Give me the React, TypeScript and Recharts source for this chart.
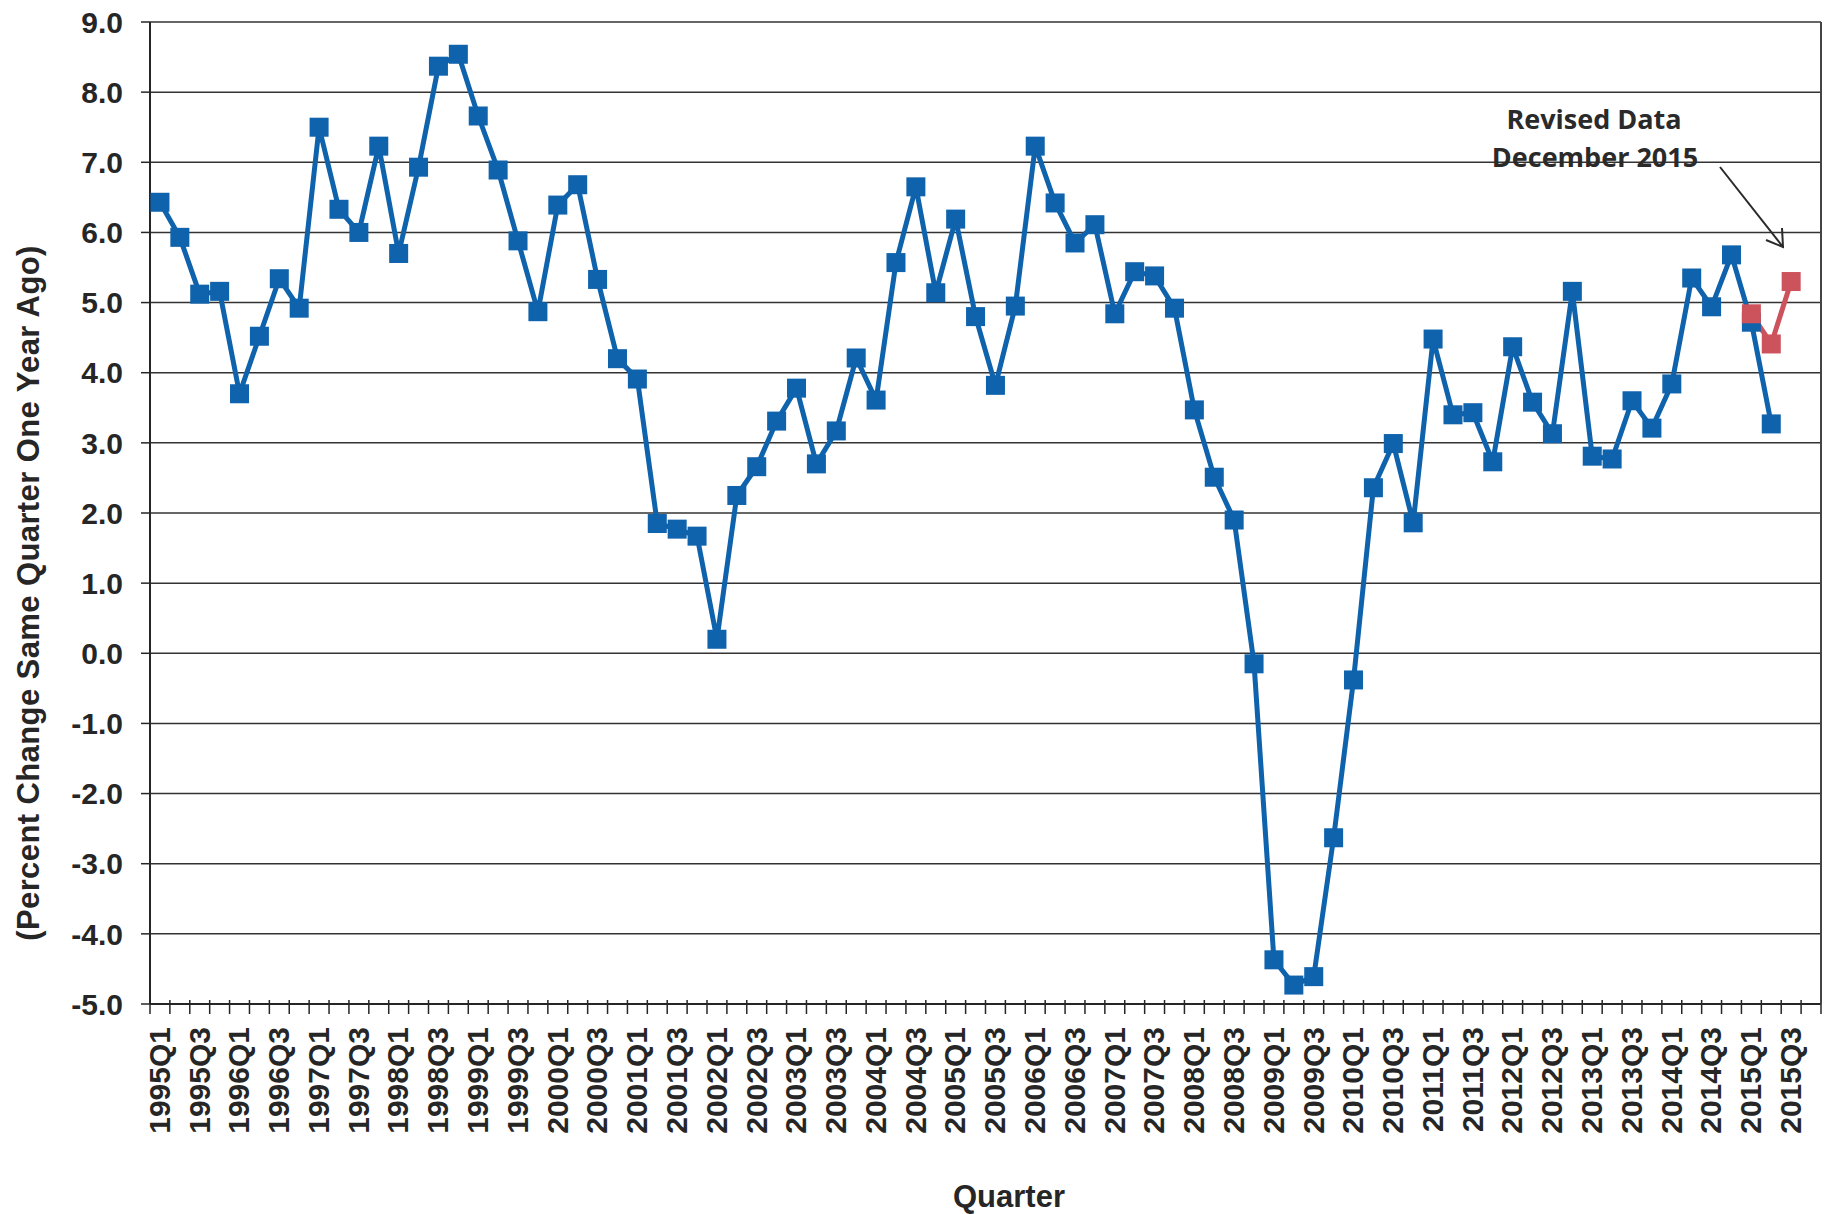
import React from 'react';
import { LineChart, Line, XAxis, YAxis, CartesianGrid } from 'recharts';

const YEARS = [1995, 1996, 1997, 1998, 1999, 2000, 2001, 2002, 2003, 2004, 2005, 2006, 2007, 2008, 2009, 2010, 2011, 2012, 2013, 2014, 2015];
const QUARTER_SUFFIXES = ['Q1', 'Q2', 'Q3', 'Q4'];
const QUARTERS: string[] = [];
YEARS.forEach((y) => QUARTER_SUFFIXES.forEach((q) => QUARTERS.push(`${y}${q}`)));

// Original series, 1995Q1 .. 2015Q2
const ORIGINAL = [
  6.43, 5.93, 5.12, 5.16,
  3.70, 4.52, 5.34, 4.92,
  7.50, 6.33, 6.00, 7.23,
  5.70, 6.93, 8.37, 8.54,
  7.66, 6.89, 5.88, 4.87,
  6.39, 6.68, 5.33, 4.20,
  3.91, 1.85, 1.77, 1.67,
  0.20, 2.25, 2.66, 3.31,
  3.78, 2.70, 3.17, 4.21,
  3.61, 5.57, 6.65, 5.14,
  6.19, 4.80, 3.82, 4.95,
  7.23, 6.42, 5.85, 6.11,
  4.84, 5.44, 5.38, 4.92,
  3.47, 2.51, 1.90, -0.15,
  -4.37, -4.73, -4.61, -2.63,
  -0.38, 2.36, 2.99, 1.86,
  4.48, 3.40, 3.43, 2.73,
  4.37, 3.58, 3.13, 5.16,
  2.81, 2.77, 3.60, 3.21,
  3.84, 5.35, 4.94, 5.68,
  4.72, 3.27,
];

// Revised data (December 2015)
const REVISED_QUARTERS = ['2015Q1', '2015Q2', '2015Q3'];
const REVISED = [4.84, 4.41, 5.30];

const Y_TICKS = [-5, -4, -3, -2, -1, 0, 1, 2, 3, 4, 5, 6, 7, 8, 9];

const data = QUARTERS.map((q, i) => {
  const ri = REVISED_QUARTERS.indexOf(q);
  return {
    q,
    orig: i < ORIGINAL.length ? ORIGINAL[i] : null,
    rev: ri >= 0 ? REVISED[ri] : null,
  };
});

const CHART_W = 1827;
const CHART_H = 1214;
const MARGIN = { top: 22, right: 6, left: 0, bottom: 0 };
const Y_AXIS_W = 150;
const X_AXIS_H = 210;
const PLOT_W = CHART_W - MARGIN.left - MARGIN.right - Y_AXIS_W;
const PLOT_H = CHART_H - MARGIN.top - MARGIN.bottom - X_AXIS_H;
const HALF_BAND = PLOT_W / QUARTERS.length / 2;

const BLUE = '#0F62AC';
const RED = '#CC525C';
const INK = '#262626';
const FONT = '"Liberation Sans", Arial, sans-serif';
const MARK = 19;

const squareDot = (color: string) => (props: any) => {
  const { cx, cy, index } = props;
  if (cx == null || cy == null || Number.isNaN(cy)) return <g key={`n-${index}`} />;
  return (
    <rect key={`d-${index}`} x={cx - MARK / 2} y={cy - MARK / 2} width={MARK} height={MARK} fill={color} stroke="none" />
  );
};

const renderXTick = (props: any) => {
  const { x, y, payload, index } = props;
  const isLast = index === QUARTERS.length - 1;
  return (
    <g key={`xt-${index}`}>
      <line x1={x - HALF_BAND} x2={x - HALF_BAND} y1={y - 4} y2={y + 10} stroke={INK} strokeWidth={1.5} />
      {isLast && (
        <>
          <line x1={x + HALF_BAND} x2={x + HALF_BAND} y1={y - 4} y2={y + 10} stroke={INK} strokeWidth={1.5} />
          <line x1={x + HALF_BAND} x2={x + HALF_BAND} y1={y} y2={y - PLOT_H} stroke="#444" strokeWidth={2} />
        </>
      )}
      {index % 2 === 0 && (
        <text
          transform={`translate(${x - 1},${y + 23}) rotate(-90)`}
          textAnchor="end"
          dy="0.36em"
          fontSize={30}
          fontWeight={700}
          fontFamily={FONT}
          fill={INK}
        >
          {payload.value}
        </text>
      )}
    </g>
  );
};

export default function App() {
  return (
    <div style={{ position: 'absolute', left: 0, top: 0, width: CHART_W, height: CHART_H, background: '#fff' }}>
      <LineChart width={CHART_W} height={CHART_H} data={data} margin={MARGIN}>
        <CartesianGrid vertical={false} stroke="#333" strokeWidth={1.5} />
        <XAxis
          dataKey="q"
          interval={0}
          padding={{ left: HALF_BAND, right: HALF_BAND }}
          tickLine={false}
          tickSize={0}
          tickMargin={0}
          height={X_AXIS_H}
          axisLine={{ stroke: INK, strokeWidth: 2 }}
          tick={renderXTick}
        />
        <YAxis
          width={Y_AXIS_W}
          domain={[-5, 9]}
          ticks={Y_TICKS}
          interval={0}
          tickFormatter={(v: number) => v.toFixed(1)}
          tickSize={9}
          tickMargin={18}
          tickLine={{ stroke: INK, strokeWidth: 1.5 }}
          axisLine={{ stroke: INK, strokeWidth: 2 }}
          tick={{ fontSize: 30, fontWeight: 700, fontFamily: FONT, fill: INK }}
        />
        <Line
          type="linear"
          dataKey="orig"
          stroke={BLUE}
          strokeWidth={5}
          dot={squareDot(BLUE)}
          activeDot={false}
          isAnimationActive={false}
          connectNulls={false}
        />
        <Line
          type="linear"
          dataKey="rev"
          stroke={RED}
          strokeWidth={5}
          dot={squareDot(RED)}
          activeDot={false}
          isAnimationActive={false}
          connectNulls={false}
        />
      </LineChart>
      <svg
        width={CHART_W}
        height={CHART_H}
        style={{ position: 'absolute', left: 0, top: 0, pointerEvents: 'none' }}
      >
        <text
          transform="translate(28,593) rotate(-90)"
          textAnchor="middle"
          dominantBaseline="central"
          fontSize={31}
          letterSpacing={0.4}
          fontWeight={700}
          fontFamily={FONT}
          fill={INK}
        >
          (Percent Change Same Quarter One Year Ago)
        </text>
        <text x={1009} y={1207} textAnchor="middle" fontSize={31} fontWeight={700} fontFamily={FONT} fill={INK}>
          Quarter
        </text>
        <text x={1594} y={129} textAnchor="middle" fontSize={27} fontWeight={700} fontFamily='"Open Sans", sans-serif' fill="#2a2a2a">
          Revised Data
        </text>
        <text x={1595} y={167} textAnchor="middle" fontSize={27} fontWeight={700} fontFamily='"Open Sans", sans-serif' fill="#2a2a2a">
          December 2015
        </text>
        <line x1={1720} y1={167} x2={1783} y2={247} stroke="#2a2a2a" strokeWidth={2} />
        <polyline points="1766,240 1783,247 1782,228" fill="none" stroke="#2a2a2a" strokeWidth={2} />
      </svg>
    </div>
  );
}
